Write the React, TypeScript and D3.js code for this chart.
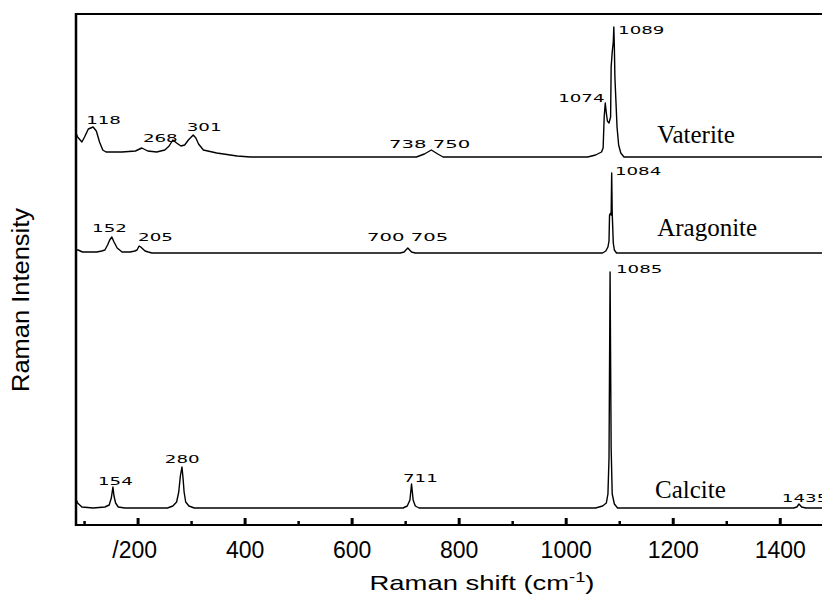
import React from 'react';
import * as d3 from 'd3';

// Raman spectra: [shift cm-1, intensity above the series baseline]
const vaterite: [number, number][] = [
  [84, 24], [87, 20], [95, 15], [100, 20], [107, 28], [116, 30], [122, 26], [128, 15], [134, 7], [140, 5],
  [170, 5], [195, 6], [207, 9], [218, 6], [235, 5], [250, 7], [258, 11], [265, 17], [272, 14], [280, 11],
  [287, 12], [294, 17], [303, 22], [308, 19], [313, 13], [322, 7], [347, 4], [385, 1], [410, 0],
  [720, 0], [735, 3], [748, 7], [760, 3], [770, 0],
  [1040, 0], [1055, 2], [1066, 5], [1069, 9], [1071, 40], [1073, 54], [1075, 44], [1077, 36], [1080, 34],
  [1083, 40], [1084, 90], [1086, 105], [1088, 115], [1089, 130], [1090, 110], [1091, 80], [1093, 55],
  [1095, 30], [1098, 12], [1102, 4], [1108, 0], [1478, 0],
];

const aragonite: [number, number][] = [
  [84, 3], [88, 3], [96, 1], [104, 1], [114, 1], [123, 1], [132, 2], [138, 3], [143, 8], [147, 13], [151, 16],
  [155, 11], [161, 5], [170, 1], [185, 1], [194, 2], [198, 3], [202, 7], [205, 6], [207, 5], [213, 2], [219, 1],
  [226, 0], [690, 0], [697, 1], [704, 5], [711, 1], [718, 0],
  [1068, 0], [1074, 2], [1078, 6], [1080, 12], [1081, 38], [1083, 40], [1084, 38], [1085, 80], [1086, 40],
  [1088, 10], [1090, 3], [1094, 0], [1478, 0],
];

const calcite: [number, number][] = [
  [84, 9], [87, 5], [95, 1], [116, 0], [138, 1], [146, 3], [150, 10], [153, 21], [155, 12], [158, 5], [163, 1],
  [175, 0], [255, 0], [265, 2], [272, 6], [276, 16], [279, 32], [282, 41], [284, 30], [286, 16], [289, 6],
  [295, 2], [305, 0], [695, 0], [703, 2], [708, 8], [711, 24], [714, 8], [718, 2], [725, 0],
  [1055, 0], [1068, 2], [1075, 5], [1078, 14], [1080, 50], [1082, 236], [1084, 60], [1086, 14], [1090, 4],
  [1096, 0], [1425, 0], [1431, 1], [1435, 4], [1440, 1], [1448, 0], [1478, 0],
];

const seriesNames = ['Vaterite', 'Aragonite', 'Calcite'];
const seriesData = [vaterite, aragonite, calcite];
const seriesOffsets = [368, 272, 17]; // stacking offset of each spectrum
// name label position: [shift, height above baseline]
const namePos: [number, number][] = [[1170, 14], [1170, 17], [1166, 10]];

// peak labels: [text, shift at left edge, height above baseline]
const vateritePeaks: [string, number, number][] = [
  ['118', 103, 33], ['268', 209, 15], ['301', 291, 26], ['738 750', 669, 9], ['1074', 985, 55], ['1089', 1097, 123],
];
const aragonitePeaks: [string, number, number][] = [
  ['152', 114, 21], ['205', 200, 12], ['700 705', 628, 12], ['1084', 1091, 78],
];
const calcitePeaks: [string, number, number][] = [
  ['154', 125, 23], ['280', 250, 45], ['711', 695, 26], ['1085', 1093, 235], ['1435', 1403, 6],
];
const seriesPeaks = [vateritePeaks, aragonitePeaks, calcitePeaks];

const majorTicks = [200, 400, 600, 800, 1000, 1200, 1400];
const majorLabels = ['/200', '400', '600', '800', '1000', '1200', '1400'];
const minorTicks = [100, 300, 500, 700, 900, 1100, 1300];

const W = 822;
const H = 596;
const left = 76;
const top = 14;
const bottom = 525;

export default function App() {
  const x = d3.scaleLinear().domain([84, 1478]).range([left, W]);
  const y = d3.scaleLinear().domain([0, 511]).range([bottom, top]);

  return (
    <svg width={W} height={H} style={{ position: 'absolute', left: 0, top: 0, background: '#fff' }}>
      <rect width={W} height={H} fill="#fff" />

      {seriesData.map((data, i) => {
        const line = d3.line<[number, number]>()
          .x(d => x(d[0]))
          .y(d => y(d[1] + seriesOffsets[i]));
        return (
          <g key={seriesNames[i]}>
            <path d={line(data) || ''} fill="none" stroke="#000" strokeWidth={1.4} strokeLinejoin="round" />
            {seriesPeaks[i].map(([t, sx, h]) => (
              <text key={t} x={x(sx)} y={y(h + seriesOffsets[i])} fontFamily="DejaVu Sans" fontSize={10.5}
                textLength={t.length * 11.6} lengthAdjust="spacingAndGlyphs" fill="#000">{t}</text>
            ))}
            <text x={x(namePos[i][0])} y={y(namePos[i][1] + seriesOffsets[i])} fontFamily="Liberation Serif"
              fontSize={25} fill="#000">{seriesNames[i]}</text>
          </g>
        );
      })}

      {/* frame */}
      <line x1={left} x2={W} y1={top} y2={top} stroke="#000" strokeWidth={2} />
      <line x1={left} x2={left} y1={top - 1} y2={bottom + 1} stroke="#000" strokeWidth={2.5} />
      <line x1={left} x2={W} y1={bottom} y2={bottom} stroke="#000" strokeWidth={2} />

      {majorTicks.map((t, i) => (
        <g key={t}>
          <line x1={x(t)} x2={x(t)} y1={bottom} y2={bottom - 7} stroke="#000" strokeWidth={3} />
          <text x={majorLabels[i].startsWith('/') ? x(t) + 19 : x(t)} y={558}
            textAnchor={majorLabels[i].startsWith('/') ? 'end' : 'middle'}
            fontFamily="Liberation Sans, Arial" fontSize={23} fill="#000">{majorLabels[i]}</text>
        </g>
      ))}
      {minorTicks.map(t => (
        <line key={t} x1={x(t)} x2={x(t)} y1={bottom} y2={bottom - 4} stroke="#000" strokeWidth={2.5} />
      ))}

      <text x={482} y={590} textAnchor="middle" fontFamily="Liberation Sans, Arial" fontSize={21}
        textLength={225} lengthAdjust="spacingAndGlyphs" fill="#000">
        Raman shift (cm<tspan fontSize={14} dy={-8}>-1</tspan><tspan dy={8}>)</tspan>
      </text>

      <text transform="translate(29,300) rotate(-90)" textAnchor="middle" fontFamily="Liberation Sans, Arial"
        fontSize={23} textLength={184} lengthAdjust="spacingAndGlyphs" fill="#000">Raman Intensity</text>
    </svg>
  );
}
